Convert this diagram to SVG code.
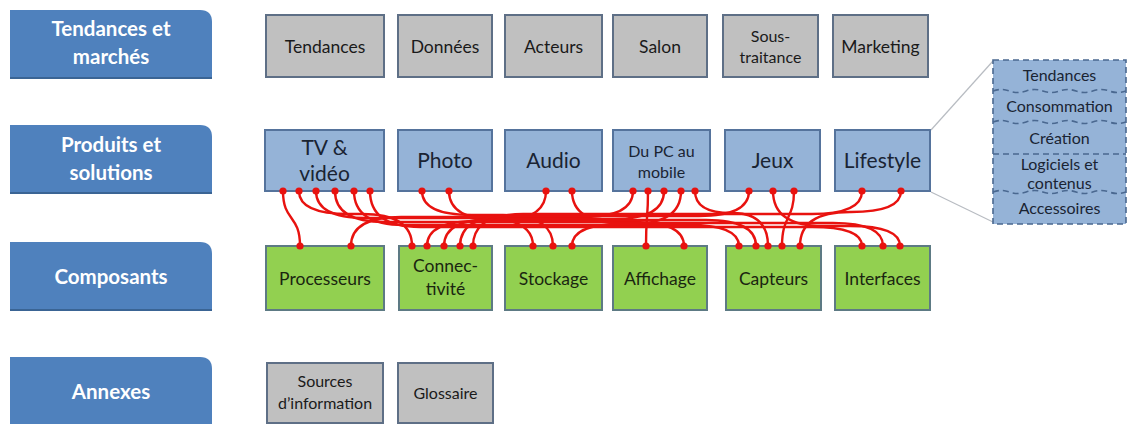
<svg xmlns="http://www.w3.org/2000/svg" width="1128" height="425" viewBox="0 0 1128 425">
<defs>
<style>
.tab{fill:#4f81bd;}
.tabline{stroke:#3a6494;stroke-width:2;}
.tabt{font-family:Lato,"Liberation Sans",sans-serif;font-weight:bold;font-size:20.5px;fill:#ffffff;text-anchor:middle;}
.gray{fill:#c0c0c0;stroke:#5e6f86;stroke-width:2;}
.blue{fill:#95b3d7;stroke:#55739c;stroke-width:2;}
.green{fill:#92d050;stroke:#5d7a84;stroke-width:2;}
.t{font-family:Lato,"Liberation Sans",sans-serif;font-size:17.5px;fill:#1a1a1a;text-anchor:middle;}
.tb{font-family:Lato,"Liberation Sans",sans-serif;font-size:21px;fill:#1a2433;text-anchor:middle;}
.tm{font-family:Lato,"Liberation Sans",sans-serif;font-size:16px;fill:#1a2433;text-anchor:middle;}
.ts{font-family:Lato,"Liberation Sans",sans-serif;font-size:16px;fill:#1a1a1a;text-anchor:middle;}
.td{font-family:Lato,"Liberation Sans",sans-serif;font-size:16px;fill:#1a2433;text-anchor:middle;}
.tg{font-family:Lato,"Liberation Sans",sans-serif;font-size:17.5px;fill:#1a2610;text-anchor:middle;}
.con path{fill:none;stroke:#e8120f;stroke-width:2.4;}
.con circle{fill:#e8120f;}
.dash{fill:none;stroke:#4a6890;stroke-width:1.6;stroke-dasharray:6 4;}
.zoomline{stroke:#b8bcc2;stroke-width:1.2;fill:none;}
</style>
</defs>
<rect width="1128" height="425" fill="#ffffff"/>

<!-- left tabs -->
<g id="tab-tendances">
<path class="tab" d="M10 10 H200 Q212 10 212 22 V78 H10 Z"/>
<line class="tabline" x1="10" y1="78" x2="212" y2="78"/>
<text class="tabt" x="111" y="36">Tendances et</text>
<text class="tabt" x="111" y="64">marchés</text>
</g>
<g id="tab-produits">
<path class="tab" d="M10 125 H200 Q212 125 212 137 V193 H10 Z"/>
<line class="tabline" x1="10" y1="193" x2="212" y2="193"/>
<text class="tabt" x="111" y="152">Produits et</text>
<text class="tabt" x="111" y="180">solutions</text>
</g>
<g id="tab-composants">
<path class="tab" d="M10 242 H200 Q212 242 212 254 V310 H10 Z"/>
<line class="tabline" x1="10" y1="310" x2="212" y2="310"/>
<text class="tabt" x="111" y="284">Composants</text>
</g>
<g id="tab-annexes">
<path class="tab" d="M10 357 H200 Q212 357 212 369 V424 H10 Z"/>
<text class="tabt" x="111" y="399">Annexes</text>
</g>

<!-- top row -->
<g id="n-tendances"><rect class="gray" x="266" y="15" width="118" height="62"/><text class="t" x="325" y="53">Tendances</text></g>
<g id="n-donnees"><rect class="gray" x="398" y="15" width="94" height="62"/><text class="t" x="445" y="53">Données</text></g>
<g id="n-acteurs"><rect class="gray" x="505" y="15" width="97" height="62"/><text class="t" x="553.5" y="53">Acteurs</text></g>
<g id="n-salon"><rect class="gray" x="613" y="15" width="94" height="62"/><text class="t" x="660" y="53">Salon</text></g>
<g id="n-soustraitance"><rect class="gray" x="723" y="15" width="95" height="62"/><text class="ts" x="770.5" y="42">Sous-</text><text class="ts" x="770.5" y="63">traitance</text></g>
<g id="n-marketing"><rect class="gray" x="833" y="15" width="95" height="62"/><text class="t" x="880.5" y="53">Marketing</text></g>

<!-- middle row -->
<g id="n-tv"><rect class="blue" x="265" y="130" width="119" height="61"/><text class="tb" x="324.5" y="155">TV &amp;</text><text class="tb" x="324.5" y="181">vidéo</text></g>
<g id="n-photo"><rect class="blue" x="398" y="130" width="94" height="61"/><text class="tb" x="445" y="168">Photo</text></g>
<g id="n-audio"><rect class="blue" x="505" y="130" width="97" height="61"/><text class="tb" x="553.5" y="168">Audio</text></g>
<g id="n-dupc"><rect class="blue" x="613" y="130" width="97" height="61"/><text class="tm" x="661.5" y="157">Du PC au</text><text class="tm" x="661.5" y="178">mobile</text></g>
<g id="n-jeux"><rect class="blue" x="725" y="130" width="95" height="61"/><text class="tb" x="772.5" y="168">Jeux</text></g>
<g id="n-lifestyle"><rect class="blue" x="835" y="130" width="95" height="61"/><text class="tb" x="882.5" y="168">Lifestyle</text></g>

<!-- bottom component row -->
<g id="n-processeurs"><rect class="green" x="266" y="246" width="118" height="64"/><text class="tg" x="325" y="285">Processeurs</text></g>
<g id="n-connectivite"><rect class="green" x="399" y="246" width="93" height="64"/><text class="tg" x="445.5" y="272">Connec-</text><text class="tg" x="445.5" y="295">tivité</text></g>
<g id="n-stockage"><rect class="green" x="505" y="246" width="97" height="64"/><text class="tg" x="553.5" y="285">Stockage</text></g>
<g id="n-affichage"><rect class="green" x="613" y="246" width="94" height="64"/><text class="tg" x="660" y="285">Affichage</text></g>
<g id="n-capteurs"><rect class="green" x="726" y="246" width="95" height="64"/><text class="tg" x="773.5" y="285">Capteurs</text></g>
<g id="n-interfaces"><rect class="green" x="835" y="246" width="95" height="64"/><text class="tg" x="882.5" y="285">Interfaces</text></g>

<!-- annexes row -->
<g id="n-sources"><rect class="gray" x="267" y="363" width="116" height="60"/><text class="ts" x="325" y="387">Sources</text><text class="ts" x="325" y="409">d’information</text></g>
<g id="n-glossaire"><rect class="gray" x="398" y="363" width="95" height="60"/><text class="ts" x="445.5" y="399">Glossaire</text></g>

<!-- lifestyle detail -->
<g id="lifestyle-detail">
<line class="zoomline" x1="931" y1="130" x2="993" y2="61"/>
<line class="zoomline" x1="931" y1="192" x2="993" y2="222"/>
<rect x="993" y="60" width="133" height="164" fill="#95b3d7"/>
<rect class="dash" x="993" y="60" width="133" height="164"/>
<path class="dash" d="M993 91 q8.3 -3 16.6 0 t16.6 0 t16.6 0 t16.6 0 t16.6 0 t16.6 0 t16.6 0 t16.6 0"/>
<path class="dash" d="M993 122 q8.3 -3 16.6 0 t16.6 0 t16.6 0 t16.6 0 t16.6 0 t16.6 0 t16.6 0 t16.6 0"/>
<line class="dash" x1="993" y1="154" x2="1126" y2="154"/>
<path class="dash" d="M993 192 q8.3 -3 16.6 0 t16.6 0 t16.6 0 t16.6 0 t16.6 0 t16.6 0 t16.6 0 t16.6 0"/>
<text class="td" x="1059.5" y="81">Tendances</text>
<text class="td" x="1059.5" y="112">Consommation</text>
<text class="td" x="1059.5" y="144">Création</text>
<text class="td" x="1059.5" y="170">Logiciels et</text>
<text class="td" x="1059.5" y="189">contenus</text>
<text class="td" x="1059.5" y="214">Accessoires</text>
</g>

<!-- connectors -->
<g id="connectors" class="con">
<path d="M283 191 C283 222 300 214 300 246"/>
<path d="M299 191 Q299 214 349 214 L362 214 Q412 214 412 246"/>
<path d="M316 191 Q316 218 366 218 L483 218 Q533 218 533 246"/>
<path d="M335 191 Q335 222 385 222 L634 222 Q684 222 684 246"/>
<path d="M354 191 Q354 225 404 225 L689 225 Q739 225 739 246"/>
<path d="M370 191 Q370 227 420 227 L812 227 Q862 227 862 246"/>
<path d="M422 191 Q422 215 472 215 L503 215 Q553 215 553 246"/>
<path d="M449 191 Q449 220 499 220 L706 220 Q756 220 756 246"/>
<path d="M546 191 Q546 221 496 221 L477 221 Q427 221 427 246"/>
<path d="M572 191 Q572 223 622 223 L833 223 Q883 223 883 246"/>
<path d="M633 191 Q633 217 583 217 L401 217 Q351 217 351 246"/>
<path d="M648 191 C648 220 646 215 646 246"/>
<path d="M664 191 Q664 219 614 219 L494 219 Q444 219 444 246"/>
<path d="M681 191 Q681 224 631 224 L622 224 Q572 224 572 246"/>
<path d="M695 191 Q695 213 731 213 L732 213 Q768 213 768 246"/>
<path d="M749 191 Q749 216 699 216 L510 216 Q460 216 460 246"/>
<path d="M773 191 Q773 226 823 226 L850 226 Q900 226 900 246"/>
<path d="M794 191 C794 220 782 215 782 246"/>
<path d="M862 191 Q862 214 812 214 L523 214 Q473 214 473 246"/>
<path d="M901 191 Q901 212 851 212 L850 212 Q800 212 800 246"/>
<circle cx="283" cy="191" r="3.6"/><circle cx="299" cy="191" r="3.6"/><circle cx="316" cy="191" r="3.6"/><circle cx="335" cy="191" r="3.6"/><circle cx="354" cy="191" r="3.6"/><circle cx="370" cy="191" r="3.6"/>
<circle cx="422" cy="191" r="3.6"/><circle cx="449" cy="191" r="3.6"/><circle cx="546" cy="191" r="3.6"/><circle cx="572" cy="191" r="3.6"/>
<circle cx="633" cy="191" r="3.6"/><circle cx="648" cy="191" r="3.6"/><circle cx="664" cy="191" r="3.6"/><circle cx="681" cy="191" r="3.6"/><circle cx="695" cy="191" r="3.6"/>
<circle cx="749" cy="191" r="3.6"/><circle cx="773" cy="191" r="3.6"/><circle cx="794" cy="191" r="3.6"/><circle cx="862" cy="191" r="3.6"/><circle cx="901" cy="191" r="3.6"/>
<circle cx="300" cy="246" r="3.6"/><circle cx="351" cy="246" r="3.6"/>
<circle cx="412" cy="246" r="3.6"/><circle cx="427" cy="246" r="3.6"/><circle cx="444" cy="246" r="3.6"/><circle cx="460" cy="246" r="3.6"/><circle cx="473" cy="246" r="3.6"/>
<circle cx="533" cy="246" r="3.6"/><circle cx="553" cy="246" r="3.6"/><circle cx="572" cy="246" r="3.6"/>
<circle cx="646" cy="246" r="3.6"/><circle cx="684" cy="246" r="3.6"/>
<circle cx="739" cy="246" r="3.6"/><circle cx="756" cy="246" r="3.6"/><circle cx="768" cy="246" r="3.6"/><circle cx="782" cy="246" r="3.6"/><circle cx="800" cy="246" r="3.6"/>
<circle cx="862" cy="246" r="3.6"/><circle cx="883" cy="246" r="3.6"/><circle cx="900" cy="246" r="3.6"/>
</g>
</svg>
